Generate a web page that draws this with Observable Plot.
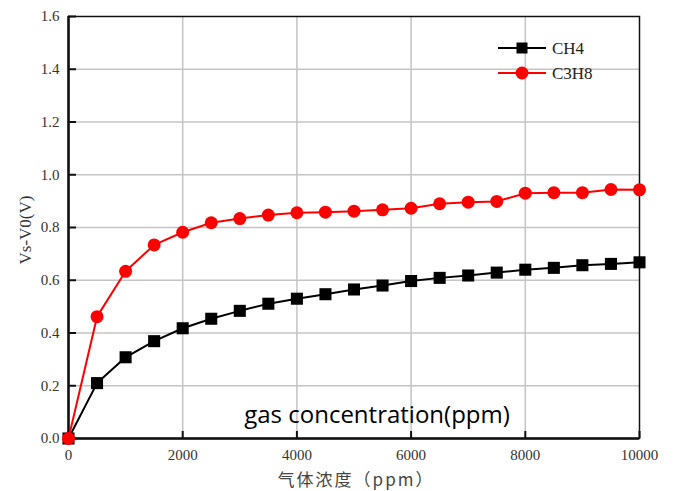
<!DOCTYPE html>
<html>
<head>
<meta charset="utf-8">
<script src="https://cdn.jsdelivr.net/npm/d3@7"></script>
<script src="https://cdn.jsdelivr.net/npm/@observablehq/plot@0.6"></script>
<style>
  html, body { margin: 0; padding: 0; background: #fff; }
  #wrap { position: relative; width: 677px; height: 491px; }
  #wrap svg { position: absolute; left: 0; top: 0; }
  .ov { position: absolute; white-space: nowrap; line-height: 1; }
  .leg { font-family: "Liberation Serif", serif; font-size: 17px; color: #222; display: flex; align-items: center; height: 20px; }
</style>
</head>
<body>
<div id="wrap"></div>
<script>
// ---- data ----
const concentration = [0, 500, 1000, 1500, 2000, 2500, 3000, 3500, 4000, 4500, 5000, 5500, 6000, 6500, 7000, 7500, 8000, 8500, 9000, 9500, 10000];
const ch4 = [0, 0.210, 0.308, 0.369, 0.418, 0.454, 0.484, 0.511, 0.530, 0.547, 0.565, 0.580, 0.597, 0.609, 0.618, 0.629, 0.640, 0.647, 0.657, 0.662, 0.668];
const c3h8 = [0, 0.462, 0.634, 0.734, 0.782, 0.818, 0.834, 0.847, 0.856, 0.858, 0.862, 0.867, 0.873, 0.890, 0.896, 0.899, 0.930, 0.932, 0.932, 0.944, 0.943];
const seriesNames = ["CH4", "C3H8"];
const xTicks = [0, 2000, 4000, 6000, 8000, 10000];
const yTicks = [0.0, 0.2, 0.4, 0.6, 0.8, 1.0, 1.2, 1.4, 1.6];
const xTitle = "气体浓度（ppm）";
const yTitle = "Vs-V0(V)";
const note = "gas concentration(ppm)";

const dCH4 = concentration.map((x, i) => ({x, y: ch4[i]}));
const dC3H8 = concentration.map((x, i) => ({x, y: c3h8[i]}));

const W = 677, H = 491;
const mL = 68, mR = 38, mT = 16, mB = 53;
const plotW = W - mL - mR, plotH = H - mT - mB;
const xMax = 10000, yMax = 1.6;
// inward tick lengths, expressed in data units (≈7–8 px)
const xTickLen = 7 / plotH * yMax;
const yTickLen = 8 / plotW * xMax;

const plot = Plot.plot({
  width: W, height: H,
  marginLeft: mL, marginRight: mR, marginTop: mT, marginBottom: mB,
  style: {fontFamily: "'Liberation Serif', serif", fontSize: "15px", color: "#333", background: "#fff"},
  x: {domain: [0, xMax], ticks: xTicks, label: null},
  y: {domain: [0, yMax], ticks: yTicks, label: null},
  marks: [
    Plot.gridX(xTicks.slice(1, -1), {stroke: "#c4c4c4", strokeOpacity: 1, strokeWidth: 1.5}),
    Plot.gridY(yTicks.slice(1, -1), {stroke: "#c4c4c4", strokeOpacity: 1, strokeWidth: 1.5}),
    Plot.frame({stroke: "#111", strokeWidth: 1.5}),
    // inward tick marks
    Plot.ruleX(xTicks, {x: d => d, y1: () => 0, y2: () => xTickLen, stroke: "#111", strokeWidth: 2}),
    Plot.ruleY(yTicks, {y: d => d, x1: () => 0, x2: () => yTickLen, stroke: "#111", strokeWidth: 2}),
    Plot.axisX(xTicks, {tickSize: 0, tickPadding: 11, tickFormat: d => String(d), fill: "#333"}),
    Plot.axisY(yTicks, {tickSize: 0, tickPadding: 9, tickFormat: d => d.toFixed(1), fill: "#333"}),
    Plot.ruleX([0], {stroke: "#111", strokeWidth: 2.5}),
    Plot.ruleY([0], {stroke: "#111", strokeWidth: 2.5}),
    Plot.line(dCH4, {x: "x", y: "y", stroke: "#000", strokeWidth: 2}),
    Plot.dot(dCH4, {x: "x", y: "y", symbol: "square", r: 6.8, fill: "#000", stroke: "none"}),
    Plot.line(dC3H8, {x: "x", y: "y", stroke: "#ff0000", strokeWidth: 2}),
    Plot.dot(dC3H8, {x: "x", y: "y", symbol: "circle", r: 6.5, fill: "#ff0000", stroke: "none"})
  ]
});

const wrap = document.getElementById("wrap");
wrap.appendChild(plot);

// Axis titles
const yl = document.createElement("div");
yl.className = "ov";
yl.textContent = yTitle;
yl.style.cssText += "font-family:'Liberation Serif',serif;font-size:17px;color:#333;left:25px;top:230px;transform:translate(-50%,-50%) rotate(-90deg);";
wrap.appendChild(yl);

const xl = document.createElement("div");
xl.className = "ov";
xl.textContent = xTitle;
xl.style.cssText += "font-family:'Noto Sans CJK SC',sans-serif;font-size:17px;color:#444;left:356px;top:478px;transform:translate(-50%,-50%);letter-spacing:2px;";
wrap.appendChild(xl);

const nt = document.createElement("div");
nt.className = "ov";
nt.textContent = note;
nt.style.cssText += "font-family:'Open Sans',sans-serif;font-size:24px;color:#000;left:377px;top:414px;transform:translate(-50%,-50%);";
wrap.appendChild(nt);

// Legend
const legColors = ["#000", "#ff0000"];
const legSymbols = ["square", "circle"];
seriesNames.forEach((name, i) => {
  const row = document.createElement("div");
  row.className = "ov leg";
  row.style.left = "498px";
  row.style.top = (38 + i * 25) + "px";
  const sym = legSymbols[i] === "square"
    ? `<rect x="18.5" y="4.5" width="11" height="11" fill="${legColors[i]}"/>`
    : `<circle cx="24" cy="10" r="6.5" fill="${legColors[i]}"/>`;
  row.innerHTML = `<svg width="48" height="20" style="position:static"><line x1="0" y1="10" x2="48" y2="10" stroke="${legColors[i]}" stroke-width="2"/>${sym}</svg><span style="margin-left:6px">${name}</span>`;
  wrap.appendChild(row);
});
</script>
</body>
</html>
